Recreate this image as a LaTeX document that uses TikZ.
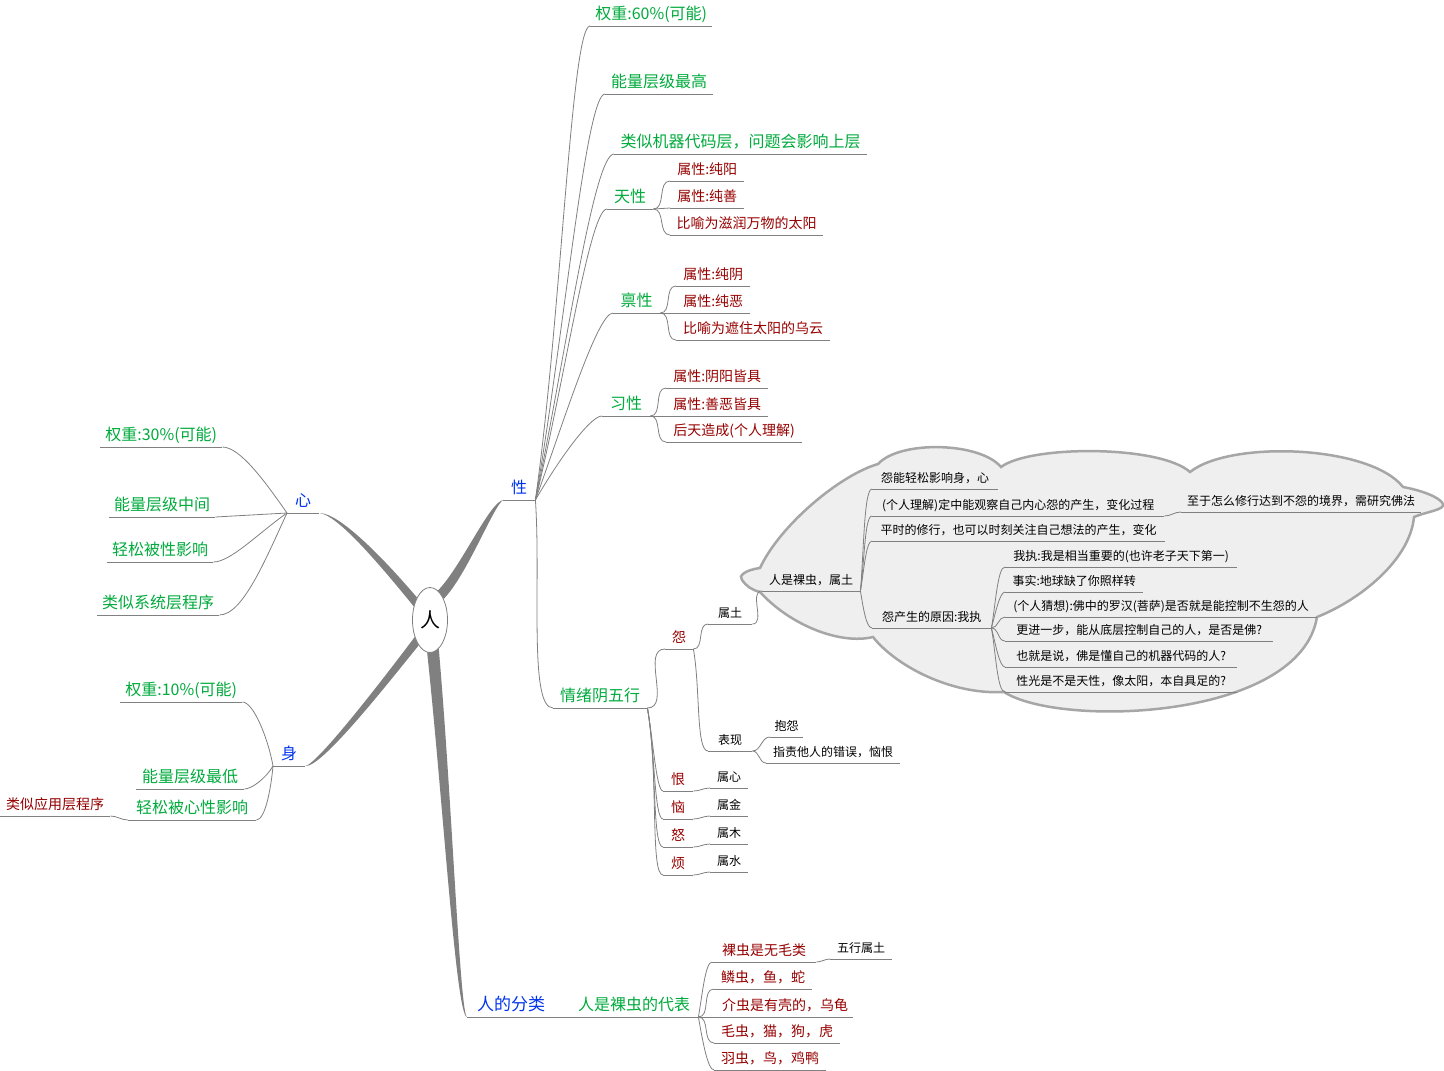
\documentclass[tikz,border=0pt]{standalone}
\usepackage{fontspec}
\setmainfont{Noto Sans CJK SC}
\usetikzlibrary{shapes.geometric,backgrounds}
\definecolor{linegray}{RGB}{128,128,128}
\definecolor{topicgreen}{RGB}{0,170,60}
\definecolor{topicblue}{RGB}{0,51,238}
\definecolor{notered}{RGB}{150,0,0}
\definecolor{cloudfill}{RGB}{239,239,239}
\definecolor{cloudline}{RGB}{166,166,166}

\begin{document}
\begin{tikzpicture}[x=1pt, y=-1pt,
    link/.style={draw=linegray, line width=0.8pt},
    trunk/.style={fill=linegray},
    topic/.style={anchor=south west, inner xsep=0pt, inner ysep=3pt, text depth=3pt,
      append after command={(\tikzlastnode.south west) edge[link] (\tikzlastnode.south east)}},
    bluetopic/.style={topic, text=topicblue, font=\fontsize{16}{19}\selectfont},
    greentopic/.style={topic, text=topicgreen, font=\fontsize{16}{19}\selectfont},
    redtopic/.style={topic, text=notered, font=\fontsize{14}{17}\selectfont},
    blacktopic/.style={topic, text=black, font=\fontsize{12}{14}\selectfont}]

\useasboundingbox (0,0) rectangle (1444,1071);

% cloud
\filldraw[fill=cloudfill, draw=cloudline, line width=2.5pt]
  (760,568) .. controls (745,570) and (738,576) .. (742,580)
  .. controls (746,586) and (752,590) .. (760,592)
  .. controls (790,625) and (840,645) .. (873,637)
  .. controls (895,665) and (950,695) .. (1004,692)
  .. controls (1060,728) and (1300,720) .. (1317,617)
  .. controls (1360,600) and (1410,560) .. (1414,517)
  .. controls (1425,512) and (1445,510) .. (1443,504)
  .. controls (1440,497) and (1420,490) .. (1403,487)
  .. controls (1370,445) and (1230,440) .. (1190,472)
  .. controls (1160,445) and (1030,445) .. (1001,467)
  .. controls (980,442) and (900,440) .. (878,464)
  .. controls (840,475) and (780,525) .. (760,568) -- cycle;

\node[draw=linegray, line width=0.8pt, fill=white, ellipse, minimum width=35, minimum height=65,
  inner sep=0pt, font=\fontsize{20}{24}\selectfont] (ren) at (430,620) {人};

\node[bluetopic, minimum width=32] (xing) at (503,500) {性};
\node[bluetopic, minimum width=32] (xin) at (287,513) {心};
\node[bluetopic, minimum width=32] (shen) at (273,766) {身};
\node[bluetopic, font=\fontsize{17}{20}\selectfont, minimum width=88] (fenlei) at (467,1017) {人的分类};

% 性
\node[greentopic, minimum width=122] (w60) at (590,26) {权重:60\%(可能)};
\node[greentopic, minimum width=108] (zuigao) at (605,94) {能量层级最高};
\node[greentopic, minimum width=253] (jiqi) at (614,154) {类似机器代码层，问题会影响上层};
\node[greentopic, minimum width=46] (tianxing) at (607,209) {天性};
\node[greentopic, minimum width=47] (bingxing) at (613,313) {禀性};
\node[greentopic, minimum width=48] (xixing) at (602,416) {习性};
\node[greentopic, minimum width=94] (qingxu) at (553,708) {情绪阴五行};

\node[redtopic, minimum width=74] (chunyang) at (670,181) {属性:纯阳};
\node[redtopic, minimum width=74] (chunshan) at (670,208) {属性:纯善};
\node[redtopic, minimum width=153] (taiyang) at (670,235) {比喻为滋润万物的太阳};

\node[redtopic, minimum width=74] (chunyin) at (676,286) {属性:纯阴};
\node[redtopic, minimum width=74] (chune) at (676,313) {属性:纯恶};
\node[redtopic, minimum width=154] (wuyun) at (676,340) {比喻为遮住太阳的乌云};

\node[redtopic, minimum width=102] (yinyang) at (666,388) {属性:阴阳皆具};
\node[redtopic, minimum width=102] (shane) at (666,416) {属性:善恶皆具};
\node[redtopic, minimum width=136] (houtian) at (666,442) {后天造成(个人理解)};

% 情绪阴五行
\node[redtopic, minimum width=28] (yuan) at (665,649) {怨};
\node[redtopic, minimum width=30] (hen) at (663,791) {恨};
\node[redtopic, minimum width=30] (nao) at (663,819) {恼};
\node[redtopic, minimum width=30] (nu) at (663,847) {怒};
\node[redtopic, minimum width=30] (fan) at (663,875) {烦};
\node[blacktopic, minimum width=38] (shuxin) at (710,788) {属心};
\node[blacktopic, minimum width=38] (shujin) at (710,816) {属金};
\node[blacktopic, minimum width=38] (shumu) at (710,844) {属木};
\node[blacktopic, minimum width=38] (shushui) at (710,872) {属水};

\node[blacktopic, minimum width=44] (shutu) at (708,624) {属土};
\node[blacktopic, minimum width=44] (biaoxian) at (708,751) {表现};
\node[blacktopic, minimum width=33] (baoyuan) at (770,737) {抱怨};
\node[blacktopic, minimum width=134] (zhize) at (766,763) {指责他人的错误，恼恨};

% in the cloud
\node[blacktopic, minimum width=98] (luochong) at (762,591) {人是裸虫，属土};
\node[blacktopic, minimum width=126] (yingxiang) at (872,489) {怨能轻松影响身，心};
\node[blacktopic, minimum width=292] (guancha) at (872,516) {(个人理解)定中能观察自己内心怨的产生，变化过程};
\node[blacktopic, minimum width=240] (fofa) at (1181,512) {至于怎么修行达到不怨的境界，需研究佛法};
\node[blacktopic, minimum width=293] (xiuxing) at (872,541) {平时的修行，也可以时刻关注自己想法的产生，变化};
\node[blacktopic, minimum width=119] (yuanyin) at (872,628) {怨产生的原因:我执};
\node[blacktopic, minimum width=232] (wozhi) at (1005,567) {我执:我是相当重要的(也许老子天下第一)};
\node[blacktopic, minimum width=138] (shishi) at (1005,592) {事实:地球缺了你照样转};
\node[blacktopic, minimum width=312] (caixiang) at (1005,617) {(个人猜想):佛中的罗汉(菩萨)是否就是能控制不生怨的人};
\node[blacktopic, minimum width=268] (gengjin) at (1005,641) {更进一步，能从底层控制自己的人，是否是佛?};
\node[blacktopic, minimum width=232] (jiqima) at (1005,667) {也就是说，佛是懂自己的机器代码的人?};
\node[blacktopic, minimum width=232] (xingguang) at (1005,692) {性光是不是天性，像太阳，本自具足的?};

% 人的分类
\node[greentopic, minimum width=128] (daibiao) at (570,1017) {人是裸虫的代表};
\node[redtopic, minimum width=104] (wumao) at (712,962) {裸虫是无毛类};
\node[blacktopic, minimum width=62] (wuxing) at (830,959) {五行属土};
\node[redtopic, minimum width=98] (linchong) at (714,989) {鳞虫，鱼，蛇};
\node[redtopic, minimum width=136] (jiechong) at (717,1017) {介虫是有壳的，乌龟};
\node[redtopic, minimum width=126] (maochong) at (714,1043) {毛虫，猫，狗，虎};
\node[redtopic, minimum width=112] (yuchong) at (714,1070) {羽虫，鸟，鸡鸭};

% 心
\node[greentopic, minimum width=122] (w30) at (100,447) {权重:30\%(可能)};
\node[greentopic, minimum width=106] (zhongjian) at (109,517) {能量层级中间};
\node[greentopic, minimum width=106] (beixing) at (107,562) {轻松被性影响};
\node[greentopic, minimum width=122] (xitong) at (97,615) {类似系统层程序};

% 身
\node[greentopic, minimum width=122] (w10) at (120,702) {权重:10\%(可能)};
\node[greentopic, minimum width=108] (zuidi) at (136,789) {能量层级最低};
\node[greentopic, minimum width=128] (beixinxing) at (128,820) {轻松被心性影响};
\node[redtopic, minimum width=110] (yingyong) at (0,816) {类似应用层程序};

% thick branches from the root
\begin{scope}[on background layer]
\fill[trunk] (ren.75) .. controls (461,567) and (489,503) .. (xing.south west)
  .. controls (493,507) and (467,575) .. (ren.57) -- cycle;
\fill[trunk] (xin.south east) .. controls (340,513) and (385,560) .. (ren.120)
  -- (ren.140) .. controls (380,565) and (338,515) .. (xin.south east) -- cycle;
\fill[trunk] (shen.south east) .. controls (318,764) and (390,670) .. (ren.228)
  -- (ren.246) .. controls (392,678) and (322,768) .. (shen.south east) -- cycle;
\fill[trunk] (ren.265) .. controls (443,800) and (456,1017) .. (fenlei.south west)
  .. controls (460,1015) and (452,800) .. (ren.287) -- cycle;
\end{scope}

\draw[link] (xing.south east) to[out=82, in=180, in looseness=0.1] (w60.south west);
\draw[link] (xing.south east) to[out=80, in=180, in looseness=0.12] (zuigao.south west);
\draw[link] (xing.south east) to[out=78, in=180, in looseness=0.15] (jiqi.south west);
\draw[link] (xing.south east) to[out=76, in=180, in looseness=0.15] (tianxing.south west);
\draw[link] (xing.south east) to[out=70, in=180, in looseness=0.2] (bingxing.south west);
\draw[link] (xing.south east) to[out=60, in=180, in looseness=0.3] (xixing.south west);
\draw[link] (xing.south east) to[out=-86, in=180, in looseness=0.3] (qingxu.south west);

\draw[link] (tianxing.south east) to[out=0, in=180] (chunyang.south west);
\draw[link] (tianxing.south east) -- (chunshan.south west);
\draw[link] (tianxing.south east) to[out=0, in=180] (taiyang.south west);
\draw[link] (bingxing.south east) to[out=0, in=180] (chunyin.south west);
\draw[link] (bingxing.south east) -- (chune.south west);
\draw[link] (bingxing.south east) to[out=0, in=180] (wuyun.south west);
\draw[link] (xixing.south east) to[out=0, in=180] (yinyang.south west);
\draw[link] (xixing.south east) -- (shane.south west);
\draw[link] (xixing.south east) to[out=0, in=180] (houtian.south west);

\draw[link] (qingxu.south east) to[out=0, in=180] (yuan.south west);
\draw[link] (qingxu.south east) to[out=-80, in=180, in looseness=0.2] (hen.south west);
\draw[link] (qingxu.south east) to[out=-80, in=180, in looseness=0.2] (nao.south west);
\draw[link] (qingxu.south east) to[out=-80, in=180, in looseness=0.2] (nu.south west);
\draw[link] (qingxu.south east) to[out=-80, in=180, in looseness=0.2] (fan.south west);
\draw[link] (hen.south east) to[out=0, in=180] (shuxin.south west);
\draw[link] (nao.south east) to[out=0, in=180] (shujin.south west);
\draw[link] (nu.south east) to[out=0, in=180] (shumu.south west);
\draw[link] (fan.south east) to[out=0, in=180] (shushui.south west);

\draw[link] (yuan.south east) to[out=0, in=180] (shutu.south west);
\draw[link] (yuan.south east) to[out=-80, in=180, in looseness=0.3] (biaoxian.south west);
\draw[link] (biaoxian.south east) to[out=0, in=180] (baoyuan.south west);
\draw[link] (biaoxian.south east) to[out=0, in=180] (zhize.south west);
\draw[link] (shutu.south east) to[out=0, in=180] (luochong.south west);

\draw[link] (luochong.south east) to[out=85, in=180, in looseness=0.2] (yingxiang.south west);
\draw[link] (luochong.south east) to[out=82, in=180, in looseness=0.25] (guancha.south west);
\draw[link] (luochong.south east) to[out=80, in=180, in looseness=0.3] (xiuxing.south west);
\draw[link] (luochong.south east) to[out=-80, in=180, in looseness=0.4] (yuanyin.south west);
\draw[link] (guancha.south east) to[out=0, in=180] (fofa.south west);
\draw[link] (yuanyin.south east) to[out=80, in=180, in looseness=0.3] (wozhi.south west);
\draw[link] (yuanyin.south east) to[out=75, in=180, in looseness=0.35] (shishi.south west);
\draw[link] (yuanyin.south east) to[out=0, in=180] (caixiang.south west);
\draw[link] (yuanyin.south east) to[out=0, in=180] (gengjin.south west);
\draw[link] (yuanyin.south east) to[out=-75, in=180, in looseness=0.35] (jiqima.south west);
\draw[link] (yuanyin.south east) to[out=-80, in=180, in looseness=0.3] (xingguang.south west);

\draw[link] (fenlei.south east) -- (daibiao.south west);
\draw[link] (daibiao.south east) to[out=80, in=180, in looseness=0.3] (wumao.south west);
\draw[link] (daibiao.south east) to[out=0, in=180] (linchong.south west);
\draw[link] (daibiao.south east) -- (jiechong.south west);
\draw[link] (daibiao.south east) to[out=0, in=180] (maochong.south west);
\draw[link] (daibiao.south east) to[out=-80, in=180, in looseness=0.3] (yuchong.south west);
\draw[link] (wumao.south east) to[out=0, in=180] (wuxing.south west);

\draw[link] (xin.south west) to[out=125, in=0, in looseness=0.5] (w30.south east);
\draw[link] (xin.south west) -- (zhongjian.south east);
\draw[link] (xin.south west) to[out=215, in=0, in looseness=0.5] (beixing.south east);
\draw[link] (xin.south west) to[out=245, in=0, in looseness=0.5] (xitong.south east);

\draw[link] (shen.south west) to[out=100, in=0, in looseness=0.4] (w10.south east);
\draw[link] (shen.south west) to[out=240, in=0, in looseness=0.5] (zuidi.south east);
\draw[link] (shen.south west) to[out=265, in=0, in looseness=0.4] (beixinxing.south east);
\draw[link] (beixinxing.south west) to[out=180, in=0] (yingyong.south east);
\end{tikzpicture}
\end{document}
